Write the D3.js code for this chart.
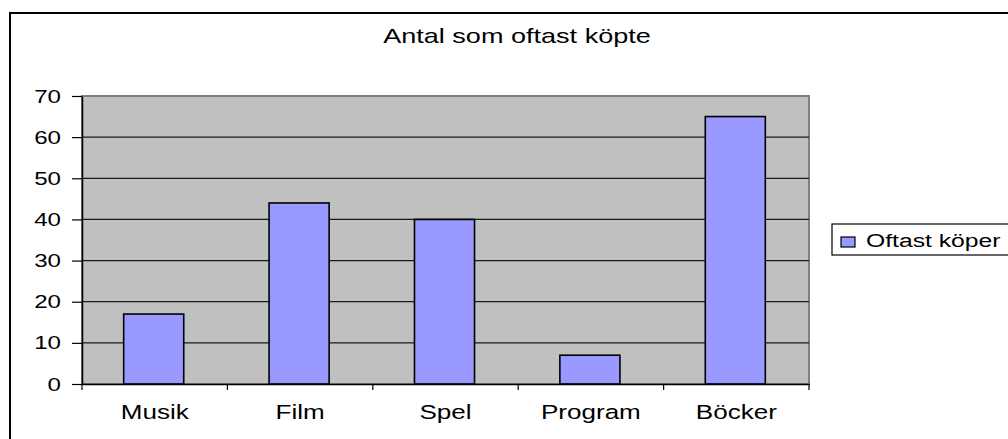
<!DOCTYPE html>
<html>
<head>
<meta charset="utf-8">
<script src="https://cdn.jsdelivr.net/npm/d3@7"></script>
<style>
  html, body { margin: 0; padding: 0; background: #fff; }
  svg { display: block; }
  text { font-family: "Liberation Sans", Arial, sans-serif; fill: #000; }
</style>
</head>
<body>
<svg id="chart" width="1008" height="439"></svg>
<script>
// Data
let categories = ["Musik", "Film", "Spel", "Program", "Böcker"];
let values = [17, 44, 40, 7, 65];
let yTicks = [0, 10, 20, 30, 40, 50, 60, 70];
let seriesName = "Oftast köper";
let chartTitle = "Antal som oftast köpte";

// The reference looks stretched sideways, so text is widened a bit
let sx = 1.27;

let svg = d3.select("#chart");

let plot = { left: 82, right: 809, top: 96, bottom: 384 };

let x = d3.scaleBand()
    .domain(categories)
    .range([plot.left, plot.right])
    .padding(0);

let y = d3.scaleLinear()
    .domain([0, 70])
    .range([plot.bottom, plot.top]);

// outer chart frame (runs off the right and bottom edges)
svg.append("rect")
    .attr("x", 10)
    .attr("y", 13)
    .attr("width", 1100)
    .attr("height", 500)
    .attr("fill", "#fff")
    .attr("stroke", "#000")
    .attr("stroke-width", 2);

// title
svg.append("text")
    .attr("transform", `translate(517,43) scale(1.32,1)`)
    .attr("text-anchor", "middle")
    .style("font-size", "20.5px")
    .text(chartTitle);

// plot area
svg.append("rect")
    .attr("x", plot.left)
    .attr("y", plot.top)
    .attr("width", plot.right - plot.left)
    .attr("height", plot.bottom - plot.top)
    .attr("fill", "#c0c0c0")
    .attr("stroke", "#808080")
    .attr("stroke-width", 2);

// gridlines
svg.append("g")
    .selectAll("line")
    .data(yTicks.filter(d => d > 0 && d < 70))
    .enter()
    .append("line")
    .attr("x1", plot.left)
    .attr("x2", plot.right)
    .attr("y1", d => y(d))
    .attr("y2", d => y(d))
    .attr("stroke", "#1a1a1a")
    .attr("stroke-width", 1.2);

// bars
let barFrac = 0.413;
svg.append("g")
    .selectAll("rect")
    .data(categories.map((c, i) => ({ cat: c, value: values[i] })))
    .enter()
    .append("rect")
    .attr("x", d => x(d.cat) + x.bandwidth() * (1 - barFrac) / 2 - 1)
    .attr("y", d => y(d.value))
    .attr("width", x.bandwidth() * barFrac)
    .attr("height", d => y(0) - y(d.value))
    .attr("fill", "#9999ff")
    .attr("stroke", "#000")
    .attr("stroke-width", 1.6);

// y axis
let yAxis = svg.append("g")
    .attr("transform", `translate(${plot.left},0)`)
    .call(d3.axisLeft(y).tickValues(yTicks).tickSize(10).tickSizeOuter(0).tickPadding(11));
yAxis.select(".domain").attr("stroke", "#000").attr("stroke-width", 1.5);
yAxis.selectAll(".tick line").attr("stroke", "#000").attr("stroke-width", 1.2);
yAxis.selectAll(".tick text")
    .attr("x", -21 / sx)
    .attr("transform", `scale(${sx},1)`)
    .style("font-size", "19px")
    .style("font-family", "'Liberation Sans', Arial, sans-serif");

// x axis: labels centred in each band
let xAxis = svg.append("g")
    .attr("transform", `translate(0,${plot.bottom})`)
    .call(d3.axisBottom(x).tickSize(0).tickSizeOuter(0));
xAxis.select(".domain").attr("stroke", "#000").attr("stroke-width", 1.5);
xAxis.selectAll(".tick text")
    .attr("y", 35)
    .attr("dy", null)
    .attr("transform", `scale(${sx},1)`)
    .style("font-size", "20.5px")
    .style("font-family", "'Liberation Sans', Arial, sans-serif");

// x tick marks at band boundaries
let bounds = categories.map(c => x(c)).concat([x(categories[categories.length - 1]) + x.bandwidth()]);
xAxis.append("g")
    .selectAll("line")
    .data(bounds)
    .enter()
    .append("line")
    .attr("x1", d => d)
    .attr("x2", d => d)
    .attr("y1", 0)
    .attr("y2", 6)
    .attr("stroke", "#000")
    .attr("stroke-width", 1.2);

// legend
let legend = svg.append("g").attr("transform", "translate(832,224)");
legend.append("rect")
    .attr("width", 300)
    .attr("height", 31)
    .attr("fill", "#fff")
    .attr("stroke", "#000")
    .attr("stroke-width", 1.2);
legend.append("rect")
    .attr("x", 9)
    .attr("y", 13)
    .attr("width", 14)
    .attr("height", 10)
    .attr("fill", "#9999ff")
    .attr("stroke", "#000")
    .attr("stroke-width", 1.2);
legend.append("text")
    .attr("transform", `translate(34,23) scale(1.3,1)`)
    .style("font-size", "19px")
    .text(seriesName);
</script>
</body>
</html>
